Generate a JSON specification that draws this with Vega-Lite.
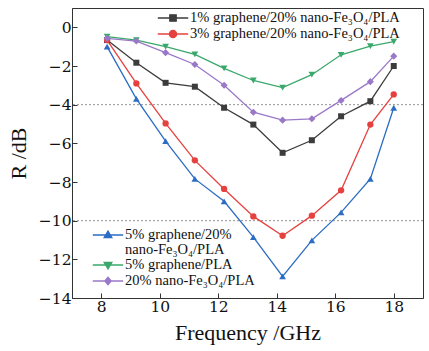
{
  "$schema": "https://vega.github.io/schema/vega-lite/v6.json",
  "width": 351,
  "height": 290,
  "autosize": {"type": "none"},
  "padding": {"left": 72, "top": 8, "right": 6, "bottom": 53},
  "background": "white",
  "config": {
    "font": "Liberation Serif",
    "view": {"stroke": "#333333", "strokeWidth": 1},
    "axis": {
      "labelFont": "DejaVu Serif",
      "titleFont": "Liberation Serif",
      "labelFontSize": 15.5,
      "titleFontSize": 22,
      "titleFontWeight": "normal",
      "labelColor": "#111111",
      "titleColor": "#111111",
      "domainColor": "#333333",
      "tickColor": "#333333",
      "tickSize": -5,
      "grid": false,
      "labelPadding": 6
    },
    "legend": {
      "labelFont": "Liberation Serif",
      "labelFontSize": 14.5,
      "labelColor": "#111111",
      "padding": 0,
      "rowPadding": 0,
      "symbolSize": 256,
      "labelOffset": 8,
      "labelLimit": 400
    }
  },
  "datasets": {
    "top": [
      {"s": "1% graphene/20% nano-Fe₃O₄/PLA", "f": 8.2, "r": -0.66},
      {"s": "1% graphene/20% nano-Fe₃O₄/PLA", "f": 9.2, "r": -1.83},
      {"s": "1% graphene/20% nano-Fe₃O₄/PLA", "f": 10.2, "r": -2.87},
      {"s": "1% graphene/20% nano-Fe₃O₄/PLA", "f": 11.2, "r": -3.07},
      {"s": "1% graphene/20% nano-Fe₃O₄/PLA", "f": 12.2, "r": -4.16},
      {"s": "1% graphene/20% nano-Fe₃O₄/PLA", "f": 13.2, "r": -5.03},
      {"s": "1% graphene/20% nano-Fe₃O₄/PLA", "f": 14.2, "r": -6.49},
      {"s": "1% graphene/20% nano-Fe₃O₄/PLA", "f": 15.2, "r": -5.84},
      {"s": "1% graphene/20% nano-Fe₃O₄/PLA", "f": 16.2, "r": -4.6},
      {"s": "1% graphene/20% nano-Fe₃O₄/PLA", "f": 17.2, "r": -3.82},
      {"s": "1% graphene/20% nano-Fe₃O₄/PLA", "f": 18.0, "r": -2.0},
      {"s": "3% graphene/20% nano-Fe₃O₄/PLA", "f": 8.2, "r": -0.66},
      {"s": "3% graphene/20% nano-Fe₃O₄/PLA", "f": 9.2, "r": -2.9},
      {"s": "3% graphene/20% nano-Fe₃O₄/PLA", "f": 10.2, "r": -4.97},
      {"s": "3% graphene/20% nano-Fe₃O₄/PLA", "f": 11.2, "r": -6.88},
      {"s": "3% graphene/20% nano-Fe₃O₄/PLA", "f": 12.2, "r": -8.36},
      {"s": "3% graphene/20% nano-Fe₃O₄/PLA", "f": 13.2, "r": -9.78},
      {"s": "3% graphene/20% nano-Fe₃O₄/PLA", "f": 14.2, "r": -10.78},
      {"s": "3% graphene/20% nano-Fe₃O₄/PLA", "f": 15.2, "r": -9.74},
      {"s": "3% graphene/20% nano-Fe₃O₄/PLA", "f": 16.2, "r": -8.43},
      {"s": "3% graphene/20% nano-Fe₃O₄/PLA", "f": 17.2, "r": -5.03},
      {"s": "3% graphene/20% nano-Fe₃O₄/PLA", "f": 18.0, "r": -3.47}
    ],
    "bottom": [
      {"s": "5% graphene/20% nano-Fe₃O₄/PLA", "f": 8.2, "r": -1.0},
      {"s": "5% graphene/20% nano-Fe₃O₄/PLA", "f": 9.2, "r": -3.7},
      {"s": "5% graphene/20% nano-Fe₃O₄/PLA", "f": 10.2, "r": -5.89},
      {"s": "5% graphene/20% nano-Fe₃O₄/PLA", "f": 11.2, "r": -7.84},
      {"s": "5% graphene/20% nano-Fe₃O₄/PLA", "f": 12.2, "r": -9.0},
      {"s": "5% graphene/20% nano-Fe₃O₄/PLA", "f": 13.2, "r": -10.85},
      {"s": "5% graphene/20% nano-Fe₃O₄/PLA", "f": 14.2, "r": -12.88},
      {"s": "5% graphene/20% nano-Fe₃O₄/PLA", "f": 15.2, "r": -11.02},
      {"s": "5% graphene/20% nano-Fe₃O₄/PLA", "f": 16.2, "r": -9.57},
      {"s": "5% graphene/20% nano-Fe₃O₄/PLA", "f": 17.2, "r": -7.84},
      {"s": "5% graphene/20% nano-Fe₃O₄/PLA", "f": 18.0, "r": -4.16},
      {"s": "5% graphene/PLA", "f": 8.2, "r": -0.48},
      {"s": "5% graphene/PLA", "f": 9.2, "r": -0.66},
      {"s": "5% graphene/PLA", "f": 10.2, "r": -1.0},
      {"s": "5% graphene/PLA", "f": 11.2, "r": -1.4},
      {"s": "5% graphene/PLA", "f": 12.2, "r": -2.12},
      {"s": "5% graphene/PLA", "f": 13.2, "r": -2.75},
      {"s": "5% graphene/PLA", "f": 14.2, "r": -3.12},
      {"s": "5% graphene/PLA", "f": 15.2, "r": -2.45},
      {"s": "5% graphene/PLA", "f": 16.2, "r": -1.42},
      {"s": "5% graphene/PLA", "f": 17.2, "r": -0.97},
      {"s": "5% graphene/PLA", "f": 18.0, "r": -0.74},
      {"s": "20% nano-Fe₃O₄/PLA", "f": 8.2, "r": -0.57},
      {"s": "20% nano-Fe₃O₄/PLA", "f": 9.2, "r": -0.71},
      {"s": "20% nano-Fe₃O₄/PLA", "f": 10.2, "r": -1.31},
      {"s": "20% nano-Fe₃O₄/PLA", "f": 11.2, "r": -1.92},
      {"s": "20% nano-Fe₃O₄/PLA", "f": 12.2, "r": -3.0},
      {"s": "20% nano-Fe₃O₄/PLA", "f": 13.2, "r": -4.39},
      {"s": "20% nano-Fe₃O₄/PLA", "f": 14.2, "r": -4.8},
      {"s": "20% nano-Fe₃O₄/PLA", "f": 15.2, "r": -4.73},
      {"s": "20% nano-Fe₃O₄/PLA", "f": 16.2, "r": -3.78},
      {"s": "20% nano-Fe₃O₄/PLA", "f": 17.2, "r": -2.81},
      {"s": "20% nano-Fe₃O₄/PLA", "f": 18.0, "r": -1.49}
    ],
    "refs": [{"y": -4}, {"y": -10}]
  },
  "layer": [
    {
      "data": {"name": "refs"},
      "mark": {"type": "rule", "color": "#777777", "strokeWidth": 0.8, "strokeDash": [2, 2]},
      "encoding": {
        "y": {"field": "y", "type": "quantitative", "scale": {"domain": [-14, 1]}}
      }
    },
    {
      "data": {"name": "top"},
      "encoding": {
        "x": {"field": "f", "type": "quantitative", "scale": {"domain": [7, 19], "nice": false}, "axis": {"values": [8, 10, 12, 14, 16, 18], "title": "Frequency /GHz", "titlePadding": 8}},
        "y": {"field": "r", "type": "quantitative", "scale": {"domain": [-14, 1], "nice": false}, "axis": {"values": [-14, -12, -10, -8, -6, -4, -2, 0], "title": "R /dB", "titlePadding": 8, "titleY": 145}},
        "color": {
          "field": "s", "type": "nominal",
          "scale": {"domain": ["1% graphene/20% nano-Fe₃O₄/PLA", "3% graphene/20% nano-Fe₃O₄/PLA"], "range": ["#3c3c3c", "#e5413f"]},
          "legend": {
            "title": null, "orient": "none", "legendX": 92, "legendY": 1,
            "encode": {"symbols": {"update": {
              "shape": {"signal": "indexof(datum.value,'1%')==0 ? 'M-1.9,0H1.9M-0.4,-0.4H0.4V0.4H-0.4Z' : 'M-1.9,0H1.9M-0.45,0A0.45,0.45 0 1,0 0.45,0A0.45,0.45 0 1,0 -0.45,0Z'"},
              "fill": {"signal": "indexof(datum.value,'1%')==0 ? '#3c3c3c' : '#e5413f'"},
              "stroke": {"signal": "indexof(datum.value,'1%')==0 ? '#3c3c3c' : '#e5413f'"},
              "strokeWidth": {"value": 1.3},
              "opacity": {"value": 1}
            }}}
          }
        }
      },
      "layer": [
        {"mark": {"type": "line", "strokeWidth": 1.3}},
        {
          "transform": [{"filter": {"field": "s", "equal": "1% graphene/20% nano-Fe₃O₄/PLA"}}],
          "mark": {"type": "point", "filled": true, "size": 36, "opacity": 1, "shape": "square"}
        },
        {
          "transform": [{"filter": {"field": "s", "equal": "3% graphene/20% nano-Fe₃O₄/PLA"}}],
          "mark": {"type": "point", "filled": true, "size": 40, "opacity": 1, "shape": "circle"}
        }
      ]
    },
    {
      "data": {"name": "bottom"},
      "encoding": {
        "x": {"field": "f", "type": "quantitative"},
        "y": {"field": "r", "type": "quantitative"},
        "color": {
          "field": "s", "type": "nominal",
          "scale": {"domain": ["5% graphene/20% nano-Fe₃O₄/PLA", "5% graphene/PLA", "20% nano-Fe₃O₄/PLA"], "range": ["#2b6cc4", "#3aa86b", "#9a78c8"]},
          "legend": {
            "title": null, "orient": "none", "legendX": 27, "legendY": 218,
            "labelExpr": "indexof(datum.label,'5% graphene/20%')==0 ? ['5% graphene/20%','nano-Fe₃O₄/PLA'] : datum.label",
            "encode": {
              "labels": {"update": {"lineHeight": {"value": 14.5}}},
              "symbols": {"update": {
                "shape": {"signal": "indexof(datum.value,'5% graphene/20%')==0 ? 'M-1.9,0H1.9M0,-0.5L0.48,0.32H-0.48Z' : indexof(datum.value,'5% graphene/PLA')==0 ? 'M-1.9,0H1.9M0,0.5L0.48,-0.32H-0.48Z' : 'M-1.9,0H1.9M0,-0.48L0.4,0L0,0.48L-0.4,0Z'"},
                "fill": {"signal": "indexof(datum.value,'5% graphene/20%')==0 ? '#2b6cc4' : indexof(datum.value,'5% graphene/PLA')==0 ? '#3aa86b' : '#9a78c8'"},
                "stroke": {"signal": "indexof(datum.value,'5% graphene/20%')==0 ? '#2b6cc4' : indexof(datum.value,'5% graphene/PLA')==0 ? '#3aa86b' : '#9a78c8'"},
                "strokeWidth": {"value": 1.3},
                "opacity": {"value": 1}
              }}
            }
          }
        }
      },
      "layer": [
        {"mark": {"type": "line", "strokeWidth": 1.3}},
        {
          "transform": [{"filter": {"field": "s", "equal": "5% graphene/20% nano-Fe₃O₄/PLA"}}],
          "mark": {"type": "point", "filled": true, "size": 45, "opacity": 1, "shape": "triangle-up"}
        },
        {
          "transform": [{"filter": {"field": "s", "equal": "5% graphene/PLA"}}],
          "mark": {"type": "point", "filled": true, "size": 45, "opacity": 1, "shape": "triangle-down"}
        },
        {
          "transform": [{"filter": {"field": "s", "equal": "20% nano-Fe₃O₄/PLA"}}],
          "mark": {"type": "point", "filled": true, "size": 50, "opacity": 1, "shape": "diamond"}
        }
      ]
    }
  ],
  "resolve": {"scale": {"color": "independent"}, "legend": {"color": "independent"}}
}
